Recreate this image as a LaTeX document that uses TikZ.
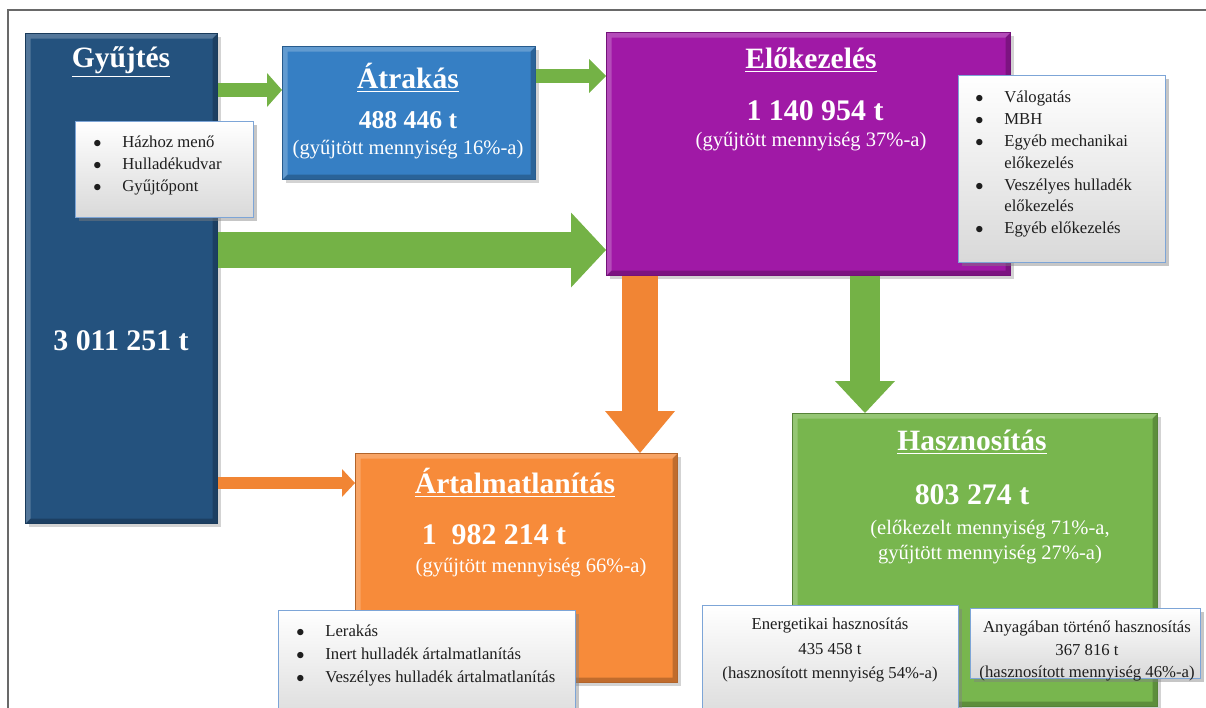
\documentclass[tikz,border=0pt]{standalone}
\usepackage{fontspec}
\setmainfont{Liberation Serif}
\usetikzlibrary{arrows.meta, positioning, shadows, calc}
\definecolor{gyublue}{RGB}{36,82,126}
\definecolor{atrblue}{RGB}{54,127,196}
\definecolor{elopurple}{RGB}{160,25,166}
\definecolor{artorange}{RGB}{247,139,58}
\definecolor{hasgreen}{RGB}{120,182,78}
\definecolor{arrgreen}{RGB}{116,178,70}
\definecolor{arrorange}{RGB}{241,133,52}
\definecolor{listblue}{RGB}{125,165,215}
\definecolor{framegray}{RGB}{105,105,105}
\definecolor{textgray}{RGB}{30,30,30}
\newcommand{\blt}{\makebox[5.8mm][l]{$\bullet$}}
\newcommand{\nobl}{\hspace*{5.8mm}}

\begin{document}
\begin{tikzpicture}[
    x=0.2mm, y=-0.2mm,
    bevel/.style={path picture={
        \fill[white, opacity=0.22] (path picture bounding box.north west) -- (path picture bounding box.north east)
            -- ([xshift=-1mm, yshift=-1mm]path picture bounding box.north east) -- ([xshift=1mm, yshift=-1mm]path picture bounding box.north west)
            -- ([xshift=1mm, yshift=1mm]path picture bounding box.south west) -- (path picture bounding box.south west) -- cycle;
        \fill[black, opacity=0.22] (path picture bounding box.south east) -- (path picture bounding box.north east)
            -- ([xshift=-1mm, yshift=-1mm]path picture bounding box.north east) -- ([xshift=-1mm, yshift=1mm]path picture bounding box.south east)
            -- ([xshift=1mm, yshift=1mm]path picture bounding box.south west) -- (path picture bounding box.south west) -- cycle;}},
    stage/.style={rectangle, anchor=north west, inner sep=0pt, fill=#1, draw=#1!72!black, line width=0.7pt, bevel, drop shadow={shadow xshift=0.6mm, shadow yshift=-0.6mm, opacity=0.35}},
    listbox/.style={rectangle, anchor=north west, inner sep=0pt, top color=white, bottom color=black!15, draw=listblue, line width=0.6pt, drop shadow={shadow xshift=0.6mm, shadow yshift=-0.6mm, opacity=0.45}},
    ttl/.style={inner sep=0pt, text=white, font=\fontsize{16.8}{20}\selectfont\bfseries},
    num/.style={inner sep=0pt, text=white, font=\fontsize{17}{20}\selectfont\bfseries},
    sub/.style={inner sep=0pt, text=white, align=center, font=\fontsize{11.7}{14.2}\selectfont},
    lst/.style={inner sep=0pt, anchor=north west, text=textgray, align=left, font=\fontsize{9.5}{12.4}\selectfont},
    note/.style={inner sep=0pt, text=textgray, align=center, font=\fontsize{9.5}{13.9}\selectfont},
    flow/.style n args={4}{draw=#1, line width=#2, -{Triangle[width=#3, length=#4, line width=0pt]}},
]
\useasboundingbox (0,0) rectangle (1206,708);

% Frame
\draw[framegray, line width=0.3mm] (8,720) -- (8,10) -- (1215,10);

% Stages
\node[stage=gyublue, minimum width=38.4mm, minimum height=98mm] (gyu) at (25,33) {};
\node[stage=atrblue, minimum width=50.6mm, minimum height=26.6mm] (atr) at (282,46) {};
\node[stage=elopurple, minimum width=80.8mm, minimum height=48.6mm] (elo) at (606,32) {};
\node[stage=artorange, minimum width=64.4mm, minimum height=45.8mm] (art) at (355,453) {};
\node[stage=hasgreen, minimum width=73mm, minimum height=58.6mm] (has) at (792,413) {};

% Helper levels for the flows
\coordinate (lv1) at (0,90);
\coordinate (lv2) at (0,76);
\coordinate (lv3) at (0,250);
\coordinate (lv4) at (0,483);
\coordinate (cl5) at (640,0);
\coordinate (cl6) at (865,0);

% Flows
\draw[flow={arrgreen}{2.8mm}{6.8mm}{3mm}] (gyu.east |- lv1) -- (atr.west |- lv1);
\draw[flow={arrgreen}{2.8mm}{6.8mm}{3.4mm}] (atr.east |- lv2) -- (elo.west |- lv2);
\draw[flow={arrgreen}{7.2mm}{15mm}{7mm}] (gyu.east |- lv3) -- (elo.west |- lv3);
\draw[flow={arrorange}{2.4mm}{5.6mm}{2.6mm}] (gyu.east |- lv4) -- (art.west |- lv4);
\draw[flow={arrorange}{7.2mm}{14mm}{8.4mm}] (elo.south -| cl5) -- (art.north -| cl5);
\draw[flow={arrgreen}{6mm}{12mm}{6.4mm}] (elo.south -| cl6) -- (has.north -| cl6);

% Stage texts
\node[ttl] (gyu-t) at (121,62) {\underline{Gyűjtés}};
\node[num] (gyu-n) at (121,341) {3 011 251 t};

\node[ttl] (atr-t) at (408,78) {\underline{Átrakás}};
\node[num, font=\fontsize{14.6}{17}\selectfont\bfseries] (atr-n) at (408,120) {488 446 t};
\node[sub] (atr-s) at (408,150) {(gyűjtött mennyiség 16\%-a)};

\node[ttl] (elo-t) at (811,60) {\underline{Előkezelés}};
\node[num] (elo-n) at (815,111) {1 140 954 t};
\node[sub] (elo-s) at (811,142) {(gyűjtött mennyiség 37\%-a)};

\node[ttl] (art-t) at (515,483) {\underline{Ártalmatlanítás}};
\node[num] (art-n) at (494,535) {1\ \ 982 214 t};
\node[sub] (art-s) at (531,568) {(gyűjtött mennyiség 66\%-a)};

\node[ttl] (has-t) at (972,442) {\underline{Hasznosítás}};
\node[num] (has-n) at (972,495) {803 274 t};
\node[sub] (has-s) at (990,542) {(előkezelt mennyiség 71\%-a,\\gyűjtött mennyiség 27\%-a)};

% Detail boxes
\node[listbox, minimum width=35.6mm, minimum height=19.2mm] (lst1) at (75,121) {};
\node[lst] (lst1-t) at (93,136) {\blt Házhoz menő\\\blt Hulladékudvar\\\blt Gyűjtőpont};

\node[listbox, minimum width=41.4mm, minimum height=37.4mm] (lst2) at (958,75) {};
\node[lst] (lst2-t) at (975,91) {\blt Válogatás\\\blt MBH\\\blt Egyéb mechanikai\\\nobl előkezelés\\\blt Veszélyes hulladék\\\nobl előkezelés\\\blt Egyéb előkezelés};

\node[listbox, minimum width=59.4mm, minimum height=24mm] (lst3) at (278,610) {};
\node[lst, font=\fontsize{9.5}{12.9}\selectfont] (lst3-t) at (296,625) {\blt Lerakás\\\blt Inert hulladék ártalmatlanítás\\\blt Veszélyes hulladék ártalmatlanítás};

\node[listbox, minimum width=51.2mm, minimum height=24mm] (ene) at (702,605) {};
\node[note] (ene-t) at (830,650) {Energetikai hasznosítás\\435 458 t\\(hasznosított mennyiség 54\%-a)};

\node[listbox, minimum width=46mm, minimum height=14mm] (any) at (970,608) {};
\node[note, font=\fontsize{9.5}{12.6}\selectfont] (any-t) at (1087,651) {Anyagában történő hasznosítás\\367 816 t\\(hasznosított mennyiség 46\%-a)};

\end{tikzpicture}
\end{document}
